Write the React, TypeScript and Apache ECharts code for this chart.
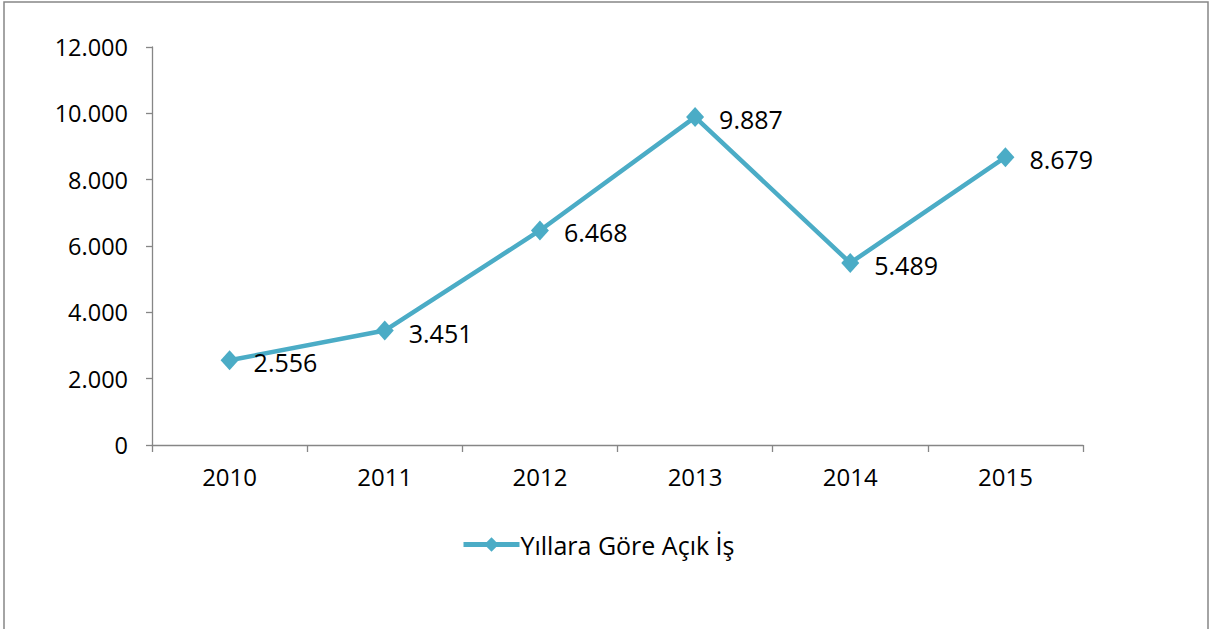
import React, { useEffect, useRef } from "react";
import * as echarts from "echarts";

const categories = ["2010", "2011", "2012", "2013", "2014", "2015"];
const values = [2556, 3451, 6468, 9887, 5489, 8679];
const seriesName = "Yıllara Göre Açık İş";
const yMin = 0;
const yMax = 12000;
const yInterval = 2000;

const fmt = (v: number) => String(Math.round(v)).replace(/\B(?=(\d{3})+(?!\d))/g, ".");

export default function App() {
  const ref = useRef<HTMLDivElement>(null);
  useEffect(() => {
    if (!ref.current) return;
    const chart = echarts.init(ref.current, null, { renderer: "svg" });
    const font = "'Open Sans', sans-serif";
    chart.setOption({
      animation: false,
      backgroundColor: "#ffffff",
      textStyle: { fontFamily: font },
      graphic: [
        {
          type: "rect",
          shape: { x: 4, y: 2, width: 1204, height: 700 },
          style: { fill: "none", stroke: "#868686", lineWidth: 1.5 },
          silent: true,
        },
      ],
      grid: { left: 152, right: 128, top: 47, bottom: 184 },
      legend: {
        data: [seriesName],
        left: 461,
        top: 532,
        padding: 0,
        itemWidth: 56,
        itemHeight: 18,
        lineStyle: { width: 5 },
        textStyle: { fontSize: 25, color: "#000000", fontFamily: font, padding: [0, 0, 0, -4] },
      },
      xAxis: {
        type: "category",
        data: categories,
        boundaryGap: true,
        axisLine: { lineStyle: { color: "#868686", width: 1.3 } },
        axisTick: { show: true, length: 7, lineStyle: { color: "#868686", width: 1.3 } },
        axisLabel: { color: "#000000", fontSize: 24, margin: 19, fontFamily: font },
        splitLine: { show: false },
      },
      yAxis: {
        type: "value",
        min: yMin,
        max: yMax,
        interval: yInterval,
        axisLine: { show: true, lineStyle: { color: "#868686", width: 1.3 } },
        axisTick: { show: true, length: 6, lineStyle: { color: "#868686", width: 1.3 } },
        axisLabel: { color: "#000000", fontSize: 23.5, margin: 24, fontFamily: font, formatter: (v: number) => fmt(v) },
        splitLine: { show: false },
      },
      series: [
        {
          name: seriesName,
          type: "line",
          data: values,
          symbol: "diamond",
          symbolSize: [18, 20],
          showAllSymbol: true,
          itemStyle: { color: "#4BACC6" },
          lineStyle: { color: "#4BACC6", width: 4.5 },
          label: {
            show: true,
            position: "right",
            distance: 15,
            color: "#000000",
            fontSize: 25,
            fontFamily: font,
            offset: [0, 2],
            formatter: (p: any) => fmt(p.value),
          },
        },
      ],
    });
    return () => chart.dispose();
  }, []);
  return (
    <div
      ref={ref}
      style={{ position: "absolute", left: 0, top: 0, width: 1211, height: 629 }}
    />
  );
}
